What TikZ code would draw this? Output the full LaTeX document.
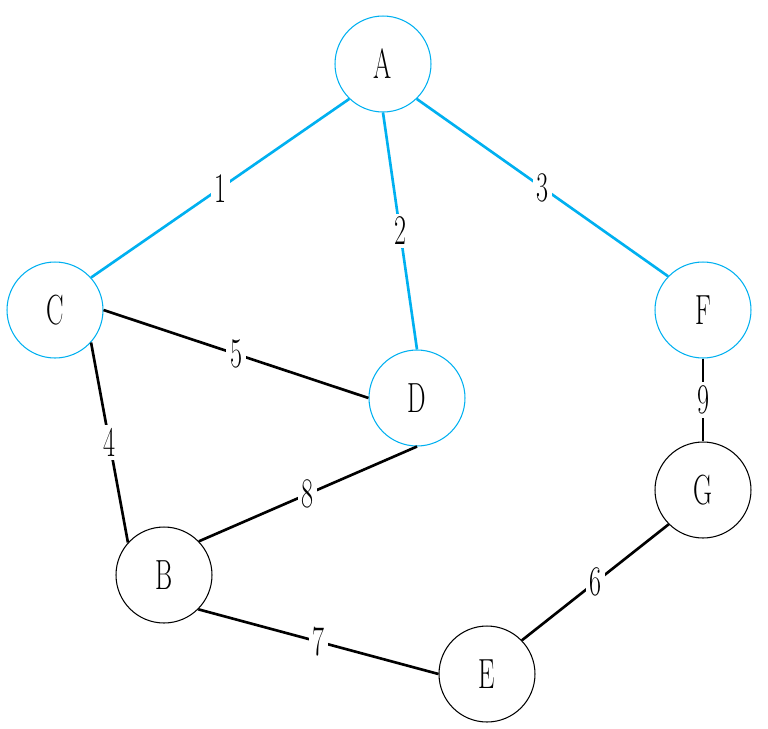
\documentclass[tikz,border=0pt]{standalone}
\usepackage{graphicx}
\definecolor{treeblue}{RGB}{0,176,240}
\newcommand{\narrowtxt}[1]{\scalebox{0.62}[1]{#1}}
\begin{document}
\begin{tikzpicture}[x=0.02cm,y=-0.02cm,
  vtx/.style={circle,draw,line width=0.6pt,minimum size=1.92cm,inner sep=0pt,
    font=\fontsize{24}{28}\selectfont},
  used/.style={vtx,draw=treeblue},
  edge/.style={line width=1.5pt},
  tree/.style={edge,draw=treeblue},
  wt/.style={fill=white,inner sep=2pt,font=\fontsize{24}{28}\selectfont}]
\useasboundingbox (0,0) rectangle (768,728);
%
\node[used](A) at (383,64){\narrowtxt{A}};
\node[used](C) at (55,310){\narrowtxt{C}};
\node[used](D) at (417,398){\narrowtxt{D}};
\node[used](F) at (703,310){\narrowtxt{F}};
\node[vtx](G) at (703,490){\narrowtxt{G}};
\node[vtx](B) at (164,575){\narrowtxt{B}};
\node[vtx](E) at (487,674){\narrowtxt{E}};
%
\draw[tree](A.-134)--node[wt]{\narrowtxt{1}}(C.42);
\draw[tree](A.south)--node[wt]{\narrowtxt{2}}(D.north);
\draw[tree](A.-46)--node[wt]{\narrowtxt{3}}(F.136);
\draw[edge](C.east)--node[wt]{\narrowtxt{5}}(D.west);
\draw[edge](C.-42)--node[wt]{\narrowtxt{4}}(B.138);
\draw[edge](D.south)--node[wt]{\narrowtxt{8}}(B.44);
\draw[edge](B.-45)--node[wt]{\narrowtxt{7}}(E.west);
\draw[edge](G.225)--node[wt]{\narrowtxt{6}}(E.44);
\draw[edge](F.south)--node[wt]{\narrowtxt{9}}(G.north);
\end{tikzpicture}
\end{document}
